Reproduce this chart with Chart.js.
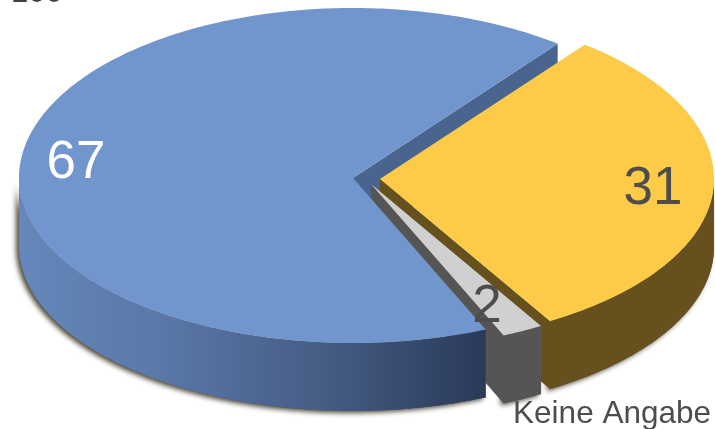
<!DOCTYPE html>
<html>
<head>
<meta charset="utf-8">
<title>Kreisdiagramm</title>
<style>
  html, body { margin: 0; padding: 0; background: #fff; overflow: hidden; }
  canvas { display: block; }
</style>
<script src="https://cdn.jsdelivr.net/npm/chart.js@4/dist/chart.umd.js"></script>
</head>
<body>
<canvas id="pie" width="715" height="429"></canvas>
<script>
const categories = ['', '', 'Keine Angabe'];
const values = [67, 31, 2];
const cutOffLabel = '100';

// one entry per slice
const topColors = ['#7195cd', '#fdcb47', '#d0d0d0'];
const edgeColors = ['#4a658d', '#66511e', '#555555'];
const rimColors = [null, '#66511e', '#555555'];
const textColors = ['#ffffff', '#4d4d4d', '#4d4d4d'];
const centers = [[353, 178], [380, 179], [371, 184]];
const valueAnchors = [[76, 178], [653, 204], [487, 322]];

const RADIUS = 334;
const RY_BACK = 170;
const RY_FRONT = 165;
const DEPTH = 68;
const FONT = '"Liberation Sans", Arial, sans-serif';

function project(i, angle, drop) {
    const s = Math.sin(angle);
    return [
        centers[i][0] + RADIUS * Math.cos(angle),
        centers[i][1] + (s > 0 ? RY_FRONT : RY_BACK) * s + drop
    ];
}

function arcPoints(i, from, to, drop) {
    const pts = [];
    const n = Math.max(2, Math.ceil(Math.abs(to - from) / (Math.PI / 240)));
    for (let k = 0; k <= n; k++) {
        pts.push(project(i, from + (to - from) * k / n, drop));
    }
    return pts;
}

function tracePolygon(ctx, pts) {
    ctx.beginPath();
    pts.forEach((p, k) => (k ? ctx.lineTo(p[0], p[1]) : ctx.moveTo(p[0], p[1])));
    ctx.closePath();
}

// angles of a slice normalised so the front of the pie is easy to clamp
function sliceRange(arc) {
    const tau = Math.PI * 2;
    let start = arc.startAngle % tau;
    if (start < 0) start += tau;
    return [start, start + (arc.endAngle - arc.startAngle)];
}

// outer rim, only the part facing the viewer
function rimPoints(i, arc) {
    const tau = Math.PI * 2;
    const range = sliceRange(arc);
    const base = range[0] > Math.PI ? tau : 0;
    const from = Math.max(range[0], base);
    const to = Math.min(range[1], base + Math.PI);
    if (to <= from) return null;
    return arcPoints(i, from, to, 0).concat(arcPoints(i, to, from, DEPTH));
}

function blueRim(ctx) {
    const g = ctx.createLinearGradient(19, 0, 484, 0);
    g.addColorStop(0, '#6587ba');
    g.addColorStop(0.3, '#5a78a8');
    g.addColorStop(0.65, '#465d85');
    g.addColorStop(1, '#2a3a59');
    return g;
}

const pie3d = {
    id: 'pie3d',
    beforeDatasetDraw(chart, args) {
        const ctx = chart.ctx;
        const arcs = args.meta.data;
        const rimOrder = [1, 2, 0];

        ctx.save();

        // soft shadow below the rims
        ctx.shadowColor = 'rgba(40,30,10,0.8)';
        ctx.shadowBlur = 5;
        ctx.shadowOffsetX = -3;
        ctx.shadowOffsetY = 2;
        ctx.fillStyle = '#555';
        rimOrder.forEach(i => {
            const pts = rimPoints(i, arcs[i]);
            if (pts) { tracePolygon(ctx, pts); ctx.fill(); }
        });
        ctx.shadowColor = 'transparent';

        // cut faces seen through the gaps
        [0, 1, 2].forEach(i => {
            const a = arcs[i].endAngle;
            const outer = project(i, a, 0);
            const outerLow = project(i, a, DEPTH);
            const c = centers[i];
            tracePolygon(ctx, [c, outer, outerLow, [c[0], c[1] + DEPTH]]);
            ctx.fillStyle = edgeColors[i];
            ctx.fill();
        });

        rimOrder.forEach(i => {
            const pts = rimPoints(i, arcs[i]);
            if (!pts) return;
            tracePolygon(ctx, pts);
            ctx.fillStyle = rimColors[i] || blueRim(ctx);
            ctx.fill();
        });

        // top faces
        [0, 1, 2].forEach(i => {
            const pts = [centers[i]].concat(arcPoints(i, arcs[i].startAngle, arcs[i].endAngle, 0));
            tracePolygon(ctx, pts);
            ctx.fillStyle = topColors[i];
            ctx.fill();
        });

        ctx.restore();
        return false;
    },
    afterDatasetsDraw(chart) {
        const ctx = chart.ctx;
        ctx.save();
        ctx.textBaseline = 'alphabetic';
        ctx.textAlign = 'center';
        ctx.font = '53px ' + FONT;
        values.forEach((v, i) => {
            ctx.fillStyle = textColors[i];
            ctx.fillText(String(v), valueAnchors[i][0], valueAnchors[i][1]);
        });

        ctx.font = '31.5px ' + FONT;
        ctx.fillStyle = '#4d4d4d';
        ctx.textAlign = 'right';
        ctx.fillText(categories[2], 711, 423);

        ctx.font = '31px ' + FONT;
        ctx.fillStyle = '#404040';
        ctx.textAlign = 'left';
        ctx.fillText(cutOffLabel, 11, 1.5);
        ctx.restore();
    }
};

new Chart(document.getElementById('pie').getContext('2d'), {
    type: 'pie',
    data: {
        labels: categories,
        datasets: [{
            data: values,
            backgroundColor: topColors
        }]
    },
    options: {
        responsive: false,
        animation: false,
        rotation: 156.6,
        plugins: {
            legend: { display: false },
            tooltip: { enabled: false }
        }
    },
    plugins: [pie3d]
});
</script>
</body>
</html>
